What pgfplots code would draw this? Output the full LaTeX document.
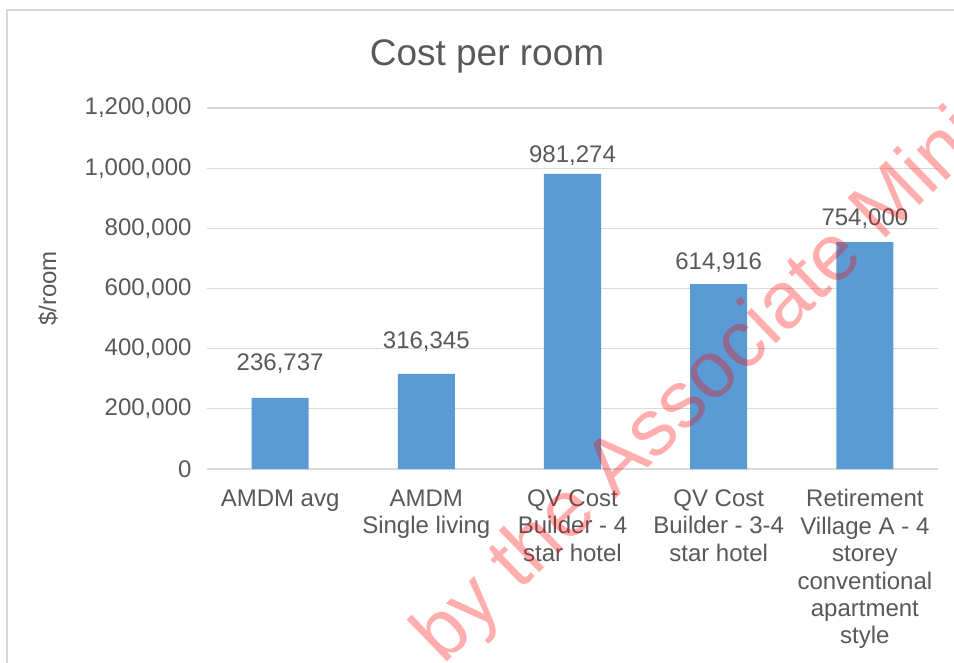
\documentclass[border=0pt]{standalone}
\usepackage{fontspec}
\setmainfont{Liberation Sans}
\usepackage{pgfplots}
\pgfplotsset{compat=1.18}
\definecolor{barblue}{HTML}{5B9BD5}
\definecolor{txtgray}{HTML}{595959}
\definecolor{gridgray}{HTML}{D9D9D9}
\begin{document}
\begin{tikzpicture}
\clip (0pt,0pt) rectangle (954pt,662pt);
\fill[white] (0pt,0pt) rectangle (954pt,662pt);
\draw[gridgray, line width=2pt] (7pt,652pt) rectangle (990pt,-30pt);
\node[anchor=base, text=txtgray, font={\fontsize{37}{44}\selectfont}] at (487pt,596pt) {Cost per room};
\begin{axis}[
  at={(207pt,193pt)}, anchor=south west,
  scale only axis, width=731pt, height=361pt,
  ybar, bar width=57pt,
  xmin=-0.5, xmax=4.5, ymin=0, ymax=1200000,
  xtick={0,1,2,3,4},
  xticklabels={{AMDM avg},{AMDM\\Single living},{QV Cost\\Builder - 4\\star hotel},{QV Cost\\Builder - 3-4\\star hotel},{Retirement\\Village A - 4\\storey\\conventional\\apartment\\style}},
  ytick={0,200000,400000,600000,800000,1000000,1200000},
  scaled y ticks=false,
  /pgf/number format/.cd, fixed, precision=0, 1000 sep={,}, assume math mode=true,
  /pgfplots/.cd,
  axis line style={draw=none},
  major tick length=0pt,
  ymajorgrids, grid style={gridgray, line width=1.3pt},
  xticklabel style={font={\fontsize{24}{27.4}\selectfont}, align=center, text=txtgray, yshift=-17pt},
  yticklabel style={font={\fontsize{24}{28}\selectfont}, text=txtgray, xshift=-12pt},
  ylabel={\$/room},
  ylabel style={at={(axis description cs:-0.2175,0.5)}, anchor=center, font={\fontsize{24}{28}\selectfont}, text=txtgray},
  clip=false,
]
\addplot[draw=none, fill=barblue,
  visualization depends on={value \thisrow{off} \as \laboff},
  nodes near coords,
  nodes near coords style={font={\fontsize{24}{28}\selectfont}, text=txtgray, anchor=base, yshift=\laboff pt}]
  table[x=x, y=y] {
x y off
0 236737 27
1 316345 25
2 981274 11
3 614916 15
4 754000 17
};
\end{axis}
\node[rotate=44, anchor=base west, text=red, text opacity=0.32, font={\fontsize{80}{92}\selectfont}, inner sep=0pt] at (443pt,-4pt) {by the Associate Minister};
\end{tikzpicture}
\end{document}
